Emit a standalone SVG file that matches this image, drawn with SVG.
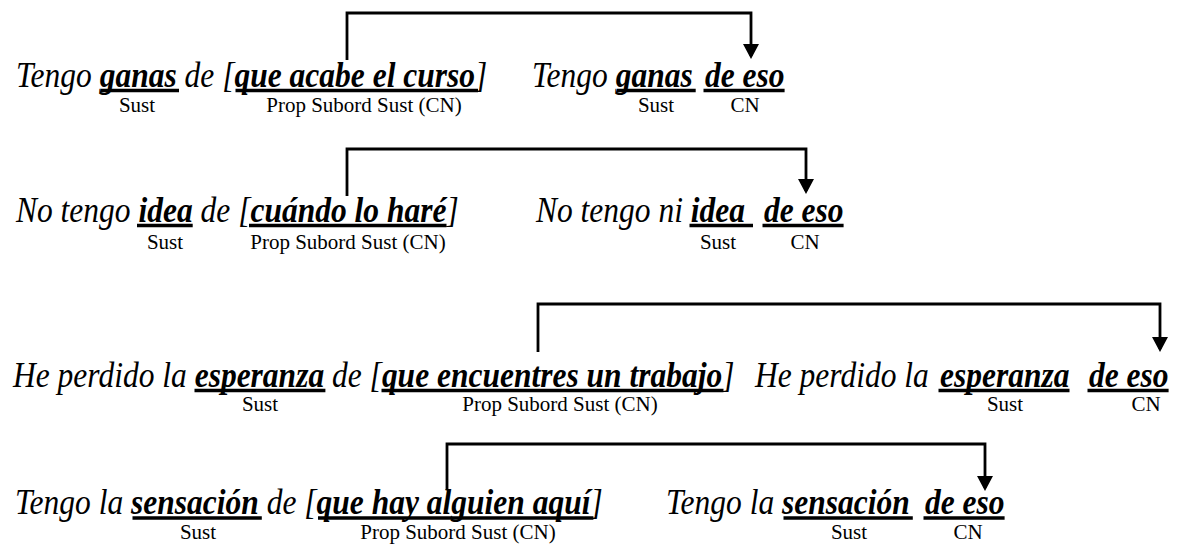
<svg xmlns="http://www.w3.org/2000/svg" width="1194" height="545" viewBox="0 0 1194 545">
<style>
.s{font-family:"Liberation Serif","Times New Roman",serif;font-style:italic;font-size:31.5px;fill:#000}
.b{font-weight:bold}
.lab{font-family:"Liberation Serif","Times New Roman",serif;font-size:21px;fill:#000;text-anchor:middle}
.u{stroke:#000;stroke-width:3.5}
.c{fill:none;stroke:#000;stroke-width:2.8;marker-end:url(#ah)}
</style>
<defs>
<marker id="ah" markerUnits="userSpaceOnUse" viewBox="0 0 15 16" refX="12" refY="8" markerWidth="15" markerHeight="16" orient="auto">
<path d="M0,0 L15,8 L0,16 z" fill="#000"/>
</marker>
</defs>
<rect width="1194" height="545" fill="#fff"/>
<g id="connectors">
<path class="c" d="M347,60 V13 H751 V56"/>
<path class="c" d="M347,196 V149 H806 V191"/>
<path class="c" d="M538,352 V304 H1160 V349"/>
<path class="c" d="M447,490 V444 H985 V488"/>
</g>
<g id="r1a">
<text class="s" x="16" y="87" transform="matrix(1 0 0 1.12 0 -10.44)">Tengo <tspan class="b">ganas</tspan> de [<tspan class="b">que acabe el curso</tspan>]</text>
<line class="u" x1="100.5" y1="90.5" x2="179" y2="90.5"/>
<line class="u" x1="235.5" y1="90.5" x2="478" y2="90.5"/>
<text class="lab" x="137" y="111.5">Sust</text>
<text class="lab" x="364" y="111.5">Prop Subord Sust (CN)</text>
</g>
<g id="r1b">
<text class="s" y="87" transform="matrix(1 0 0 1.12 0 -10.44)"><tspan x="532">Tengo </tspan><tspan class="b">ganas</tspan><tspan class="b" x="705">de eso</tspan></text>
<line class="u" x1="617" y1="90.5" x2="695.7" y2="90.5"/>
<line class="u" x1="703.5" y1="90.5" x2="784.6" y2="90.5"/>
<text class="lab" x="656" y="111.5">Sust</text>
<text class="lab" x="745" y="111.5">CN</text>
</g>
<g id="r2a">
<text class="s" x="16" y="222" transform="matrix(1 0 0 1.12 0 -26.64)">No tengo <tspan class="b">idea</tspan> de [<tspan class="b">cuándo lo haré</tspan>]</text>
<line class="u" x1="137" y1="225.5" x2="192.7" y2="225.5"/>
<line class="u" x1="249" y1="225.5" x2="446.5" y2="225.5"/>
<text class="lab" x="165" y="249">Sust</text>
<text class="lab" x="348" y="249">Prop Subord Sust (CN)</text>
</g>
<g id="r2b">
<text class="s" y="222" transform="matrix(1 0 0 1.12 0 -26.64)"><tspan x="536">No tengo ni </tspan><tspan class="b">idea</tspan><tspan class="b" x="764">de eso</tspan></text>
<line class="u" x1="689.5" y1="225.5" x2="753" y2="225.5"/>
<line class="u" x1="762.5" y1="225.5" x2="843.6" y2="225.5"/>
<text class="lab" x="718" y="249">Sust</text>
<text class="lab" x="805" y="249">CN</text>
</g>
<g id="r3a">
<text class="s" x="13" y="387" transform="matrix(1 0 0 1.12 0 -46.44)">He perdido la <tspan class="b">esperanza</tspan> de [<tspan class="b">que encuentres un trabajo</tspan>]</text>
<line class="u" x1="194.5" y1="390.5" x2="325.4" y2="390.5"/>
<line class="u" x1="381.5" y1="390.5" x2="723.5" y2="390.5"/>
<text class="lab" x="260" y="411">Sust</text>
<text class="lab" x="560" y="411">Prop Subord Sust (CN)</text>
</g>
<g id="r3b">
<text class="s" y="387" transform="matrix(1 0 0 1.12 0 -46.44)"><tspan x="755">He perdido la</tspan><tspan class="b" x="940">esperanza</tspan><tspan class="b" x="1089">de eso</tspan></text>
<line class="u" x1="938.5" y1="390.5" x2="1069.5" y2="390.5"/>
<line class="u" x1="1087.5" y1="390.5" x2="1168.6" y2="390.5"/>
<text class="lab" x="1005" y="411">Sust</text>
<text class="lab" x="1146" y="411">CN</text>
</g>
<g id="r4a">
<text class="s" x="15" y="514" transform="matrix(1 0 0 1.12 0 -61.68)">Tengo la <tspan class="b">sensación</tspan> de [<tspan class="b">que hay alguien aquí</tspan>]</text>
<line class="u" x1="132.5" y1="518" x2="261.8" y2="518"/>
<line class="u" x1="318" y1="518" x2="593.4" y2="518"/>
<text class="lab" x="198" y="539">Sust</text>
<text class="lab" x="458" y="539">Prop Subord Sust (CN)</text>
</g>
<g id="r4b">
<text class="s" y="514" transform="matrix(1 0 0 1.12 0 -61.68)"><tspan x="666">Tengo la </tspan><tspan class="b">sensación</tspan><tspan class="b" x="925">de eso</tspan></text>
<line class="u" x1="783.5" y1="518" x2="912.8" y2="518"/>
<line class="u" x1="923.5" y1="518" x2="1004.6" y2="518"/>
<text class="lab" x="849" y="539">Sust</text>
<text class="lab" x="968" y="539">CN</text>
</g>
</svg>
